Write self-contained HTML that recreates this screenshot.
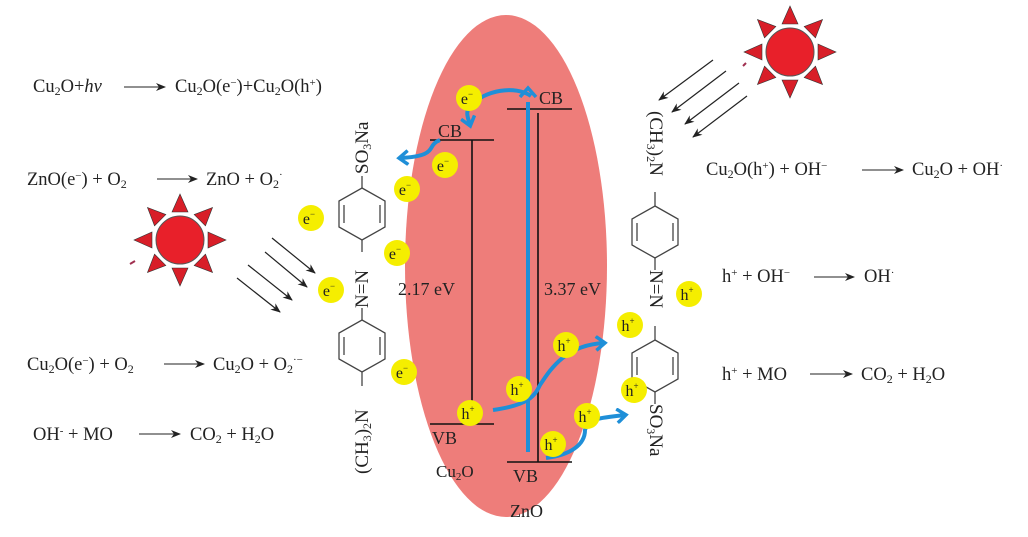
<!DOCTYPE html>
<html><head><meta charset="utf-8"><style>
html,body{margin:0;padding:0;background:#fff;}
svg{display:block}
text{font-family:"Liberation Serif",serif;fill:#222;}
.eq{font-size:18.5px}
.c{fill:#f5ee00}
.cl{font-size:16px;text-anchor:middle}
</style></head><body>
<svg width="1028" height="537" viewBox="0 0 1028 537" xmlns="http://www.w3.org/2000/svg">
<defs>
<marker id="ah" markerWidth="10" markerHeight="8" refX="9" refY="4" orient="auto" markerUnits="userSpaceOnUse"><path d="M0,0 L10,4 L0,8 L3,4z" fill="#222"/></marker>
<marker id="bh" markerWidth="16" markerHeight="16" refX="9" refY="8" orient="auto" markerUnits="userSpaceOnUse"><path d="M1,1 L10,8 L1,15" fill="none" stroke="#1f8fd8" stroke-width="3.5"/></marker>
<g id="sun">
<circle r="24" fill="#e8202a" stroke="#555" stroke-width="1"/>
<g fill="#d81e28" stroke="#333" stroke-width="0.6">
<path d="M-8,-28 L0,-46 L8,-28z"/>
<path d="M-8,-28 L0,-46 L8,-28z" transform="rotate(45)"/>
<path d="M-8,-28 L0,-46 L8,-28z" transform="rotate(90)"/>
<path d="M-8,-28 L0,-46 L8,-28z" transform="rotate(135)"/>
<path d="M-8,-28 L0,-46 L8,-28z" transform="rotate(180)"/>
<path d="M-8,-28 L0,-46 L8,-28z" transform="rotate(225)"/>
<path d="M-8,-28 L0,-46 L8,-28z" transform="rotate(270)"/>
<path d="M-8,-28 L0,-46 L8,-28z" transform="rotate(315)"/>
</g></g>
<g id="ring" fill="none" stroke="#444" stroke-width="1.3">
<path d="M0,-26 L23,-13 L23,13 L0,26 L-23,13 L-23,-13z"/>
<path d="M18,-9 L18,9 M-18,-9 L-18,9"/>
</g>
</defs>

<ellipse cx="506" cy="266" rx="101" ry="251" fill="#ee7d7a"/>

<!-- equations left -->
<text class="eq" x="33" y="92">Cu<tspan font-size="12" dy="3">2</tspan><tspan dy="-3">O+</tspan><tspan font-style="italic">hν</tspan></text>
<line x1="124" y1="87" x2="165" y2="87" stroke="#222" marker-end="url(#ah)"/>
<text class="eq" x="175" y="92">Cu<tspan font-size="12" dy="3">2</tspan><tspan dy="-3">O(e</tspan><tspan font-size="11" dy="-6">−</tspan><tspan dy="6">)+Cu</tspan><tspan font-size="12" dy="3">2</tspan><tspan dy="-3">O(h</tspan><tspan font-size="11" dy="-6">+</tspan><tspan dy="6">)</tspan></text>

<text class="eq" x="27" y="185">ZnO(e<tspan font-size="11" dy="-6">−</tspan><tspan dy="6">) + O</tspan><tspan font-size="12" dy="3">2</tspan></text>
<line x1="157" y1="179" x2="197" y2="179" stroke="#222" marker-end="url(#ah)"/>
<text class="eq" x="206" y="185">ZnO + O<tspan font-size="12" dy="3">2</tspan><tspan font-size="11" dy="-10">·</tspan></text>

<text class="eq" x="27" y="370">Cu<tspan font-size="12" dy="3">2</tspan><tspan dy="-3">O(e</tspan><tspan font-size="11" dy="-6">−</tspan><tspan dy="6">) + O</tspan><tspan font-size="12" dy="3">2</tspan></text>
<line x1="164" y1="364" x2="204" y2="364" stroke="#222" marker-end="url(#ah)"/>
<text class="eq" x="213" y="370">Cu<tspan font-size="12" dy="3">2</tspan><tspan dy="-3">O + O</tspan><tspan font-size="12" dy="3">2</tspan><tspan font-size="11" dy="-10">·−</tspan></text>

<text class="eq" x="33" y="440">OH<tspan font-size="11" dy="-6">-</tspan><tspan dy="6"> + MO</tspan></text>
<line x1="139" y1="434" x2="180" y2="434" stroke="#222" marker-end="url(#ah)"/>
<text class="eq" x="190" y="440">CO<tspan font-size="12" dy="3">2</tspan><tspan dy="-3"> + H</tspan><tspan font-size="12" dy="3">2</tspan><tspan dy="-3">O</tspan></text>

<!-- equations right -->
<text class="eq" x="706" y="175">Cu<tspan font-size="12" dy="3">2</tspan><tspan dy="-3">O(h</tspan><tspan font-size="11" dy="-6">+</tspan><tspan dy="6">) + OH</tspan><tspan font-size="11" dy="-6">−</tspan></text>
<line x1="862" y1="170" x2="903" y2="170" stroke="#222" marker-end="url(#ah)"/>
<text class="eq" x="912" y="175">Cu<tspan font-size="12" dy="3">2</tspan><tspan dy="-3">O + OH</tspan><tspan font-size="11" dy="-6">·</tspan></text>

<text class="eq" x="722" y="282">h<tspan font-size="11" dy="-6">+</tspan><tspan dy="6"> + OH</tspan><tspan font-size="11" dy="-6">−</tspan></text>
<line x1="814" y1="277" x2="854" y2="277" stroke="#222" marker-end="url(#ah)"/>
<text class="eq" x="864" y="282">OH<tspan font-size="11" dy="-6">·</tspan></text>

<text class="eq" x="722" y="380">h<tspan font-size="11" dy="-6">+</tspan><tspan dy="6"> + MO</tspan></text>
<line x1="810" y1="374" x2="852" y2="374" stroke="#222" marker-end="url(#ah)"/>
<text class="eq" x="861" y="380">CO<tspan font-size="12" dy="3">2</tspan><tspan dy="-3"> + H</tspan><tspan font-size="12" dy="3">2</tspan><tspan dy="-3">O</tspan></text>

<!-- suns -->
<use href="#sun" x="180" y="240"/>
<path d="M130,264 l5,-3" stroke="#a03050" stroke-width="2"/>
<use href="#sun" x="790" y="52"/>
<path d="M743,66 l3,-3" stroke="#a03050" stroke-width="2"/>

<!-- light arrows -->
<g stroke="#222" stroke-width="1.2">
<line x1="272" y1="238" x2="315" y2="273" marker-end="url(#ah)"/>
<line x1="265" y1="252" x2="307" y2="287" marker-end="url(#ah)"/>
<line x1="248" y1="265" x2="292" y2="300" marker-end="url(#ah)"/>
<line x1="237" y1="278" x2="280" y2="312" marker-end="url(#ah)"/>
<line x1="713" y1="60" x2="659" y2="100" marker-end="url(#ah)"/>
<line x1="726" y1="71" x2="672" y2="112" marker-end="url(#ah)"/>
<line x1="739" y1="83" x2="685" y2="124" marker-end="url(#ah)"/>
<line x1="747" y1="96" x2="693" y2="137" marker-end="url(#ah)"/>
</g>

<!-- bands -->
<g stroke="#111" stroke-width="1.6">
<line x1="430" y1="140" x2="494" y2="140"/>
<line x1="472" y1="140" x2="472" y2="420"/>
<line x1="430" y1="424" x2="494" y2="424"/>
<line x1="507" y1="109" x2="572" y2="109"/>
<line x1="538" y1="113" x2="538" y2="462"/>
<line x1="507" y1="462" x2="572" y2="462"/>
</g>
<text x="438" y="137" font-size="18">CB</text>
<text x="539" y="104" font-size="18">CB</text>
<text x="432" y="444" font-size="18">VB</text>
<text x="513" y="482" font-size="18">VB</text>
<text x="436" y="477" font-size="17">Cu<tspan font-size="11" dy="3">2</tspan><tspan dy="-3">O</tspan></text>
<text x="510" y="517" font-size="18">ZnO</text>
<text x="398" y="295" font-size="18">2.17 eV</text>
<text x="544" y="295" font-size="18">3.37 eV</text>

<!-- blue arrows -->
<g fill="none" stroke="#1f8fd8" stroke-width="4">
<line x1="528" y1="452" x2="528" y2="102"/>
<path d="M520,97 L528,88 L536,97" stroke-width="3.5"/>
<path d="M531,96 C515,85 485,90 470,106 C465,112 468,118 470,125" marker-end="url(#bh)"/>
<path d="M440,140 C425,146 440,156 400,158" marker-end="url(#bh)"/>
<path d="M493,410 C530,405 535,395 540,385 C550,370 565,345 604,343" marker-end="url(#bh)"/>
<path d="M546,458 C570,455 585,445 585,430 C588,418 600,418 625,415" marker-end="url(#bh)"/>
</g>

<!-- left molecule -->
<text transform="translate(368,174) rotate(-90)" font-size="19">SO<tspan font-size="12" dy="3">3</tspan><tspan dy="-3">Na</tspan></text>
<line x1="362" y1="176" x2="362" y2="188" stroke="#444" stroke-width="1.3"/>
<use href="#ring" x="362" y="214"/>
<line x1="362" y1="240" x2="362" y2="252" stroke="#444" stroke-width="1.3"/>
<text transform="translate(368,308) rotate(-90)" font-size="19">N=N</text>
<line x1="362" y1="308" x2="362" y2="320" stroke="#444" stroke-width="1.3"/>
<use href="#ring" x="362" y="346"/>
<line x1="362" y1="372" x2="362" y2="386" stroke="#444" stroke-width="1.3"/>
<text transform="translate(368,474) rotate(-90)" font-size="19">(CH<tspan font-size="12" dy="3">3</tspan><tspan dy="-3">)</tspan><tspan font-size="12" dy="3">2</tspan><tspan dy="-3">N</tspan></text>

<!-- right molecule -->
<text transform="translate(650,111) rotate(90)" font-size="19">(CH<tspan font-size="12" dy="3">3</tspan><tspan dy="-3">)</tspan><tspan font-size="12" dy="3">2</tspan><tspan dy="-3">N</tspan></text>
<line x1="655" y1="192" x2="655" y2="206" stroke="#444" stroke-width="1.3"/>
<use href="#ring" x="655" y="232"/>
<line x1="655" y1="258" x2="655" y2="270" stroke="#444" stroke-width="1.3"/>
<text transform="translate(650,270) rotate(90)" font-size="19">N=N</text>
<line x1="655" y1="326" x2="655" y2="340" stroke="#444" stroke-width="1.3"/>
<use href="#ring" x="655" y="366"/>
<line x1="655" y1="392" x2="655" y2="404" stroke="#444" stroke-width="1.3"/>
<text transform="translate(650,404) rotate(90)" font-size="19">SO<tspan font-size="12" dy="3">3</tspan><tspan dy="-3">Na</tspan></text>

<!-- particles -->
<g>
<circle class="c" cx="469" cy="98" r="13"/><text class="cl" x="467" y="104">e<tspan font-size="9" dy="-7">−</tspan></text>
<circle class="c" cx="445" cy="165" r="13"/><text class="cl" x="443" y="171">e<tspan font-size="9" dy="-7">−</tspan></text>
<circle class="c" cx="407" cy="189" r="13"/><text class="cl" x="405" y="195">e<tspan font-size="9" dy="-7">−</tspan></text>
<circle class="c" cx="311" cy="218" r="13"/><text class="cl" x="309" y="224">e<tspan font-size="9" dy="-7">−</tspan></text>
<circle class="c" cx="397" cy="253" r="13"/><text class="cl" x="395" y="259">e<tspan font-size="9" dy="-7">−</tspan></text>
<circle class="c" cx="331" cy="290" r="13"/><text class="cl" x="329" y="296">e<tspan font-size="9" dy="-7">−</tspan></text>
<circle class="c" cx="404" cy="372" r="13"/><text class="cl" x="402" y="378">e<tspan font-size="9" dy="-7">−</tspan></text>
<circle class="c" cx="470" cy="413" r="13"/><text class="cl" x="468" y="419">h<tspan font-size="9" dy="-7">+</tspan></text>
<circle class="c" cx="519" cy="389" r="13"/><text class="cl" x="517" y="395">h<tspan font-size="9" dy="-7">+</tspan></text>
<circle class="c" cx="566" cy="345" r="13"/><text class="cl" x="564" y="351">h<tspan font-size="9" dy="-7">+</tspan></text>
<circle class="c" cx="630" cy="325" r="13"/><text class="cl" x="628" y="331">h<tspan font-size="9" dy="-7">+</tspan></text>
<circle class="c" cx="689" cy="294" r="13"/><text class="cl" x="687" y="300">h<tspan font-size="9" dy="-7">+</tspan></text>
<circle class="c" cx="634" cy="390" r="13"/><text class="cl" x="632" y="396">h<tspan font-size="9" dy="-7">+</tspan></text>
<circle class="c" cx="587" cy="416" r="13"/><text class="cl" x="585" y="422">h<tspan font-size="9" dy="-7">+</tspan></text>
<circle class="c" cx="553" cy="444" r="13"/><text class="cl" x="551" y="450">h<tspan font-size="9" dy="-7">+</tspan></text>
</g>
</svg>
</body></html>
